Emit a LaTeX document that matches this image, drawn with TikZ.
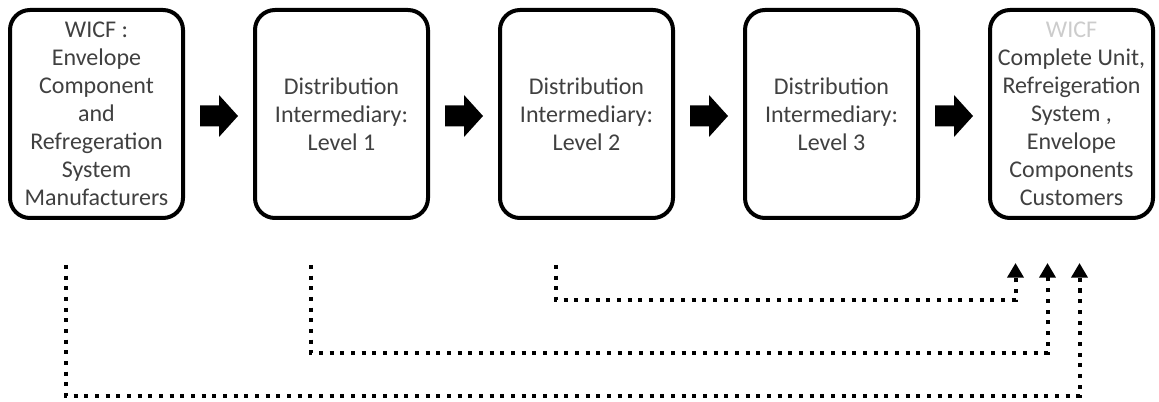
\documentclass[tikz,border=0pt]{standalone}
\usepackage{fontspec}
\setmainfont{Carlito}
\usetikzlibrary{positioning, calc, arrows.meta}
\tikzset{>={Triangle[length=11pt,width=12pt]}}
\tikzset{stage/.style={draw=black, line width=3pt, rounded corners=15pt, fill=white,
    minimum width=129.75pt, minimum height=156pt, align=center, text=black!75,
    font=\fontsize{18}{21}\selectfont},
  flow/.style={line width=3pt, dash pattern=on 3pt off 5pt, ->}}

\begin{document}
\begin{tikzpicture}[x=0.75pt, y=-0.75pt]
\useasboundingbox (0,0) rectangle (1159,402);
\node[stage] (b1) at (96.5,114) {WICF :\\Envelope\\Component\\and\\Refregeration\\System\\Manufacturers};
\node[stage, right=51pt of b1] (b2) {Distribution\\Intermediary:\\Level 1};
\node[stage, right=51pt of b2] (b3) {Distribution\\Intermediary:\\Level 2};
\node[stage, right=51pt of b3] (b4) {Distribution\\Intermediary:\\Level 3};
\node[stage, right=51pt of b4, minimum width=122.25pt] (b5) {\textcolor{black!20}{WICF}\\Complete Unit,\\Refreigeration\\System ,\\Envelope\\Components\\Customers};
% block arrows
\foreach \a/\b in {b1/b2, b2/b3, b3/b4, b4/b5}
  \fill[black] ($(\a.east)!0.5!(\b.west)$) ++(-19,-8.5) -- ++(19,0) -- ++(0,-10.5)
    -- ++(19,21) -- ++(-19,21) -- ++(0,-10.5) -- ++(-19,0) -- cycle;
% dotted links
\coordinate (s1) at ($(b1.south west)+(58,45)$);
\coordinate (s2) at ($(b2.south west)+(58,45)$);
\coordinate (s3) at ($(b3.south west)+(58,45)$);
\coordinate (t1) at ($(b5.south)+(8,43)$);
\coordinate (t2) at ($(b5.south)+(-24,43)$);
\coordinate (t3) at ($(b5.south)+(-56,43)$);
\draw[flow] (s3) -- ++(0,35) -| (t3);
\draw[flow] (s2) -- ++(0,88) -| (t2);
\draw[flow] (s1) -- ++(0,131) -| (t1);
\end{tikzpicture}
\end{document}
